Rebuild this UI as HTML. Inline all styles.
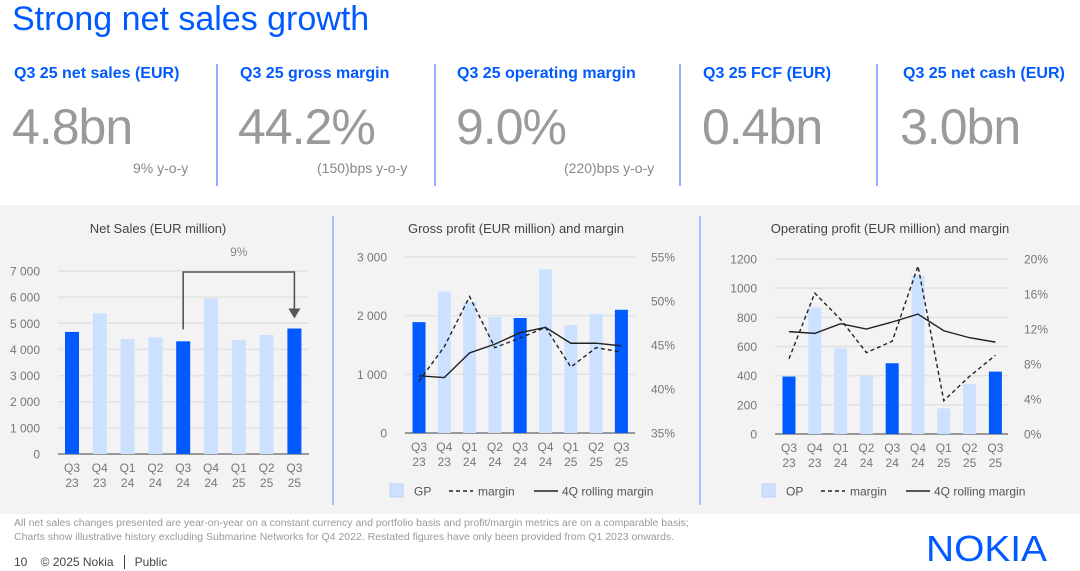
<!DOCTYPE html>
<html><head><meta charset="utf-8">
<style>
body{margin:0;width:1080px;height:571px;overflow:hidden;background:#fff;font-family:"Liberation Sans",sans-serif;position:relative}
.a{position:absolute;white-space:nowrap}
.t{color:#005AFF;font-size:34px;left:12px;top:0px}
.h{color:#005AFF;font-size:16px;font-weight:bold;top:65px}
.n{color:#9a9a9a;font-size:50px;top:98px;letter-spacing:-1px}
.s{color:#888;font-size:14px;top:160px}
.v{position:absolute;width:2px;background:#8fb2ff;top:64px;height:122px}
#panel{position:absolute;left:0;top:205px;width:1080px;height:309px;background:#f3f3f3}
.f{color:#999;font-size:10.5px}
</style></head><body>
<div class="a t">Strong net sales growth</div>
<div class="a h" style="left:14px">Q3 25 net sales (EUR)</div>
<div class="a n" style="left:12px">4.8bn</div>
<div class="a s" style="left:133px">9% y-o-y</div>
<div class="v" style="left:216px"></div>
<div class="a h" style="left:240px">Q3 25 gross margin</div>
<div class="a n" style="left:238px">44.2%</div>
<div class="a s" style="left:317px">(150)bps y-o-y</div>
<div class="v" style="left:434px"></div>
<div class="a h" style="left:457px">Q3 25 operating margin</div>
<div class="a n" style="left:456px">9.0%</div>
<div class="a s" style="left:564px">(220)bps y-o-y</div>
<div class="v" style="left:679px"></div>
<div class="a h" style="left:703px">Q3 25 FCF (EUR)</div>
<div class="a n" style="left:702px">0.4bn</div>
<div class="v" style="left:876px"></div>
<div class="a h" style="left:903px">Q3 25 net cash (EUR)</div>
<div class="a n" style="left:900px">3.0bn</div>
<div id="panel"></div>
<svg id="c" width="1080" height="571" style="position:absolute;left:0;top:0" font-family="Liberation Sans, sans-serif"></svg>
<div class="a f" style="left:14px;top:517px">All net sales changes presented are year-on-year on a constant currency and portfolio basis and profit/margin metrics are on a comparable basis;</div>
<div class="a f" style="left:14px;top:531px">Charts show illustrative history excluding Submarine Networks for Q4 2022. Restated figures have only been provided from Q1 2023 onwards.</div>
<div class="a" style="left:14px;top:555px;font-size:12px;color:#444">10 &nbsp;&nbsp; © 2025 Nokia &nbsp;&nbsp;<span style="border-left:1px solid #444;padding-left:10px">Public</span></div>
<div class="a" style="left:926px;top:528px;font-size:36px;color:#005AFF;transform:scaleX(1.08);transform-origin:left top">NOKIA</div>
<script>
const categories=["Q3|23","Q4|23","Q1|24","Q2|24","Q3|24","Q4|24","Q1|25","Q2|25","Q3|25"];
const highlight=[1,0,0,0,1,0,0,0,1];
const netSales=[4670,5380,4400,4460,4310,5950,4360,4550,4800];
const netSalesTicks=[0,1000,2000,3000,4000,5000,6000,7000];
const grossProfit=[1890,2410,2230,1975,1960,2790,1840,2030,2100];
const grossMargin=[40.9,44.8,50.5,44.7,45.8,47.0,42.5,44.7,44.2];
const grossRolling=[41.5,41.3,44.1,45.1,46.4,47.0,45.2,45.2,44.9];
const gpTicks=[0,1000,2000,3000];
const gmTicks=[35,40,45,50,55];
const opProfit=[394,867,588,400,485,1085,176,343,428];
const opMargin=[8.6,16.1,13.1,9.3,10.6,19.2,3.8,6.6,9.0];
const opRolling=[11.7,11.5,12.6,12.0,12.8,13.7,11.8,11.0,10.5];
const opTicks=[0,200,400,600,800,1000,1200];
const omTicks=[0,4,8,12,16,20];

const svg=document.getElementById('c');
const NS="http://www.w3.org/2000/svg";
function mk(tag,at,txt){const e=document.createElementNS(NS,tag);for(const k in at)e.setAttribute(k,at[k]);if(txt!==undefined)e.textContent=txt;svg.appendChild(e);return e;}
function fmt(v){return v>=1000?String(v).replace(/(\d)(\d{3})$/,'$1 $2'):String(v);}

function chart(o){
  const yL=v=>o.y0-(v-o.lmin)/(o.lmax-o.lmin)*(o.y0-o.y1);
  const xC=i=>o.x0+i*o.step;
  let t=mk('text',{x:o.titleX,y:233,'font-size':13,fill:'#444','text-anchor':'middle'},o.title);
  
  o.lticks.forEach(v=>{
    const y=yL(v);
    let g=mk('line',{x1:o.gx0,x2:o.gx1,y1:y,y2:y,stroke:v===o.lmin?'#999':'#e2e2e2','stroke-width':v===o.lmin?2:1.5});
    
    let l=mk('text',{x:o.lx,y:y+4.5,'font-size':12,fill:'#777','text-anchor':'end'},o.lfmt(v));
    
  });
  if(o.rticks){
    const yR=v=>o.y0-(v-o.rmin)/(o.rmax-o.rmin)*(o.y0-o.y1);
    o.rticks.forEach(v=>{
      let l=mk('text',{x:o.rx,y:yR(v)+4.5,'font-size':12,fill:'#777'},v+'%');
      
    });
    o.yR=yR;
  }
  o.bars.forEach((v,i)=>{
    const y=yL(v);
    let b=mk('rect',{x:xC(i)-o.bw/2,y:y,width:o.bw,height:yL(o.lmin)-y,fill:highlight[i]?'#005AFF':'#cce0ff'});
    
  });
  categories.forEach((c,i)=>{
    const p=c.split('|');
    let a=mk('text',{x:xC(i),y:o.y0+18,'font-size':12,fill:'#777','text-anchor':'middle'},p[0]);
    
    let b=mk('text',{x:xC(i),y:o.y0+33,'font-size':12,fill:'#777','text-anchor':'middle'},p[1]);
    
  });
  if(o.margin){
    let p1=mk('polyline',{points:o.margin.map((v,i)=>xC(i)+','+o.yR(v)).join(' '),fill:'none',stroke:'#222','stroke-width':1.4,'stroke-dasharray':'4,3'});
    
    let p2=mk('polyline',{points:o.rolling.map((v,i)=>xC(i)+','+o.yR(v)).join(' '),fill:'none',stroke:'#222','stroke-width':1.4});
    
    const ly=491;
    let r=mk('rect',{x:o.legX,y:ly-7,width:13,height:13,fill:'#cce0ff',stroke:'#bcd3f5'});
    
    let t1=mk('text',{x:o.legX+24,y:ly+4.5,'font-size':12,fill:'#555'},o.barLabel);
    
    let d=mk('line',{x1:o.legX+59,x2:o.legX+83,y1:ly,y2:ly,stroke:'#222','stroke-width':1.4,'stroke-dasharray':'4,3'});
    
    let t2=mk('text',{x:o.legX+88,y:ly+4.5,'font-size':12,fill:'#555'},'margin');
    
    let s=mk('line',{x1:o.legX+144,x2:o.legX+168,y1:ly,y2:ly,stroke:'#222','stroke-width':1.4});
    
    let t3=mk('text',{x:o.legX+172,y:ly+4.5,'font-size':12,fill:'#555'},'4Q rolling margin');
    
  }
  o.xC=xC;o.yL=yL;return o;
}
const c1=chart({key:'net-sales',title:'Net Sales (EUR million)',titleX:158,x0:72,step:27.8,bw:14,y0:454,y1:271,lmin:0,lmax:7000,lticks:netSalesTicks,lfmt:fmt,lx:40,gx0:58,gx1:309,bars:netSales});
const c2=chart({key:'gross-profit',title:'Gross profit (EUR million) and margin',titleX:516,x0:419,step:25.3,bw:13,y0:433,y1:257,lmin:0,lmax:3000,lticks:gpTicks,lfmt:fmt,lx:387,gx0:405,gx1:635,bars:grossProfit,rticks:gmTicks,rmin:35,rmax:55,rx:651,margin:grossMargin,rolling:grossRolling,legX:390,barLabel:'GP'});
const c3=chart({key:'operating-profit',title:'Operating profit (EUR million) and margin',titleX:890,x0:789,step:25.8,bw:13,y0:434,y1:259,lmin:0,lmax:1200,lticks:opTicks,lfmt:v=>String(v),lx:757,gx0:775,gx1:1008,bars:opProfit,rticks:omTicks,rmin:0,rmax:20,rx:1024,margin:opMargin,rolling:opRolling,legX:762,barLabel:'OP'});
const ax1=c1.xC(4),ax2=c1.xC(8),ay=c1.yL(7000)+1;
let ar=mk('polyline',{points:`${ax1},${c1.yL(netSales[4])-12} ${ax1},${ay} ${ax2},${ay} ${ax2},${c1.yL(netSales[8])-18}`,fill:'none',stroke:'#555','stroke-width':1.6});

let ah=mk('polygon',{points:`${ax2-6},${c1.yL(netSales[8])-20} ${ax2+6},${c1.yL(netSales[8])-20} ${ax2},${c1.yL(netSales[8])-10}`,fill:'#555'});

let gl=mk('text',{x:(ax1+ax2)/2,y:256,'font-size':12,fill:'#888','text-anchor':'middle'},'9%');

[333,700].forEach(x=>{let d=mk('line',{x1:x,x2:x,y1:216,y2:505,stroke:'#8fb2ff','stroke-width':1.5});
});
</script>
</body></html>
